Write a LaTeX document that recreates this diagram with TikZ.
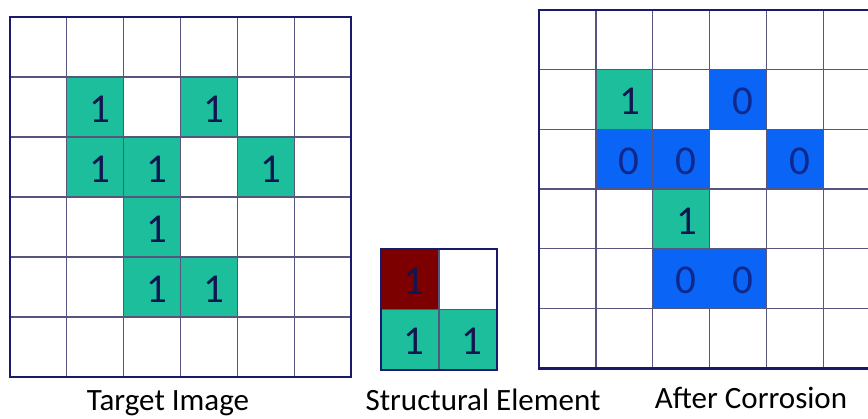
\documentclass[tikz,border=0pt]{standalone}
\usepackage{fontspec}
\setmainfont{Carlito}
\definecolor{cellteal}{RGB}{28,190,155}
\definecolor{cellblue}{RGB}{10,100,245}
\definecolor{celldred}{RGB}{125,0,0}
\definecolor{digitnavy}{RGB}{18,22,80}
\definecolor{digitblue}{RGB}{15,40,140}
\definecolor{gridinner}{RGB}{85,85,125}
\definecolor{gridouter}{RGB}{25,25,110}
\begin{document}
\begin{tikzpicture}[x=1pt,y=-1pt,
  digit/.style={font=\fontsize{41}{41}\selectfont, text=digitnavy, inner sep=0pt, anchor=center},
  caption/.style={font=\fontsize{31}{31}\selectfont, text=black, inner sep=0pt, anchor=base},
  inner line/.style={draw=gridinner, line width=1.3pt},
  outer line/.style={draw=gridouter, line width=2.8pt}]
\clip (0,0) rectangle (868,418);
\fill[white] (0,0) rectangle (868,418);

% ---------- Target image (left) ----------
\def\Lx{10}\def\Ly{17}\def\Lw{56.83}\def\Lh{60}
\foreach \r/\c in {1/1,1/3,2/1,2/2,2/4,3/2,4/2,4/3}{
  \fill[cellteal] ({\Lx+\Lw*\c},{\Ly+\Lh*\r}) rectangle ++(\Lw,\Lh);
}
\foreach \k in {1,...,5}{
  \draw[inner line] ({\Lx+\Lw*\k},\Ly) -- ({\Lx+\Lw*\k},{\Ly+6*\Lh});
  \draw[inner line] (\Lx,{\Ly+\Lh*\k}) -- ({\Lx+6*\Lw},{\Ly+\Lh*\k});
}
\draw[outer line] (\Lx,\Ly) rectangle ({\Lx+6*\Lw},{\Ly+6*\Lh});
\foreach \r/\c in {1/1,1/3,2/1,2/2,2/4,3/2,4/2,4/3}{
  \node[digit] (L-\r-\c) at ({\Lx+\Lw*(\c+0.5)+5},{\Ly+\Lh*(\r+0.5)+2}) {1};
}
\node[caption] (capL) at (168,410) {Target Image};

% ---------- Structural element (middle) ----------
\def\Sx{381}\def\Sy{249}\def\Sw{58}\def\Sh{60.5}
\fill[celldred] (\Sx,\Sy) rectangle ++(\Sw,\Sh);
\fill[cellteal] (\Sx,{\Sy+\Sh}) rectangle ++({2*\Sw},\Sh);
\draw[inner line] ({\Sx+\Sw},\Sy) -- ({\Sx+\Sw},{\Sy+2*\Sh});
\draw[inner line] (\Sx,{\Sy+\Sh}) -- ({\Sx+2*\Sw},{\Sy+\Sh});
\draw[outer line] (\Sx,\Sy) rectangle ({\Sx+2*\Sw},{\Sy+2*\Sh});
\node[digit] (S-0-0) at ({\Sx+\Sw*0.5+4},{\Sy+\Sh*0.5+2}) {1};
\node[digit] (S-1-0) at ({\Sx+\Sw*0.5+4},{\Sy+\Sh*1.5+2}) {1};
\node[digit] (S-1-1) at ({\Sx+\Sw*1.5+4},{\Sy+\Sh*1.5+2}) {1};
\node[caption] (capS) at (483,410) {Structural Element};

% ---------- After corrosion (right) ----------
\def\Rx{539}\def\Ry{10}\def\Rw{56.9}\def\Rh{59.7}
\foreach \r/\c in {1/1,3/2}{
  \fill[cellteal] ({\Rx+\Rw*\c},{\Ry+\Rh*\r}) rectangle ++(\Rw,\Rh);
}
\foreach \r/\c in {1/3,2/1,2/2,2/4,4/2,4/3}{
  \fill[cellblue] ({\Rx+\Rw*\c},{\Ry+\Rh*\r}) rectangle ++(\Rw,\Rh);
}
\foreach \k in {1,...,5}{
  \draw[inner line] ({\Rx+\Rw*\k},\Ry) -- ({\Rx+\Rw*\k},{\Ry+6*\Rh});
  \draw[inner line] (\Rx,{\Ry+\Rh*\k}) -- ({\Rx+6*\Rw},{\Ry+\Rh*\k});
}
\draw[outer line] (\Rx,\Ry) rectangle ({\Rx+6*\Rw},{\Ry+6*\Rh});
\foreach \r/\c in {1/1,3/2}{
  \node[digit] (R-\r-\c) at ({\Rx+\Rw*(\c+0.5)+6},{\Ry+\Rh*(\r+0.5)+2}) {1};
}
\foreach \r/\c in {1/3,2/1,2/2,2/4,4/2,4/3}{
  \node[digit, text=digitblue] (R-\r-\c) at ({\Rx+\Rw*(\c+0.5)+5},{\Ry+\Rh*(\r+0.5)+2}) {0};
}
\node[caption] (capR) at (751,408) {After Corrosion};
\end{tikzpicture}
\end{document}
